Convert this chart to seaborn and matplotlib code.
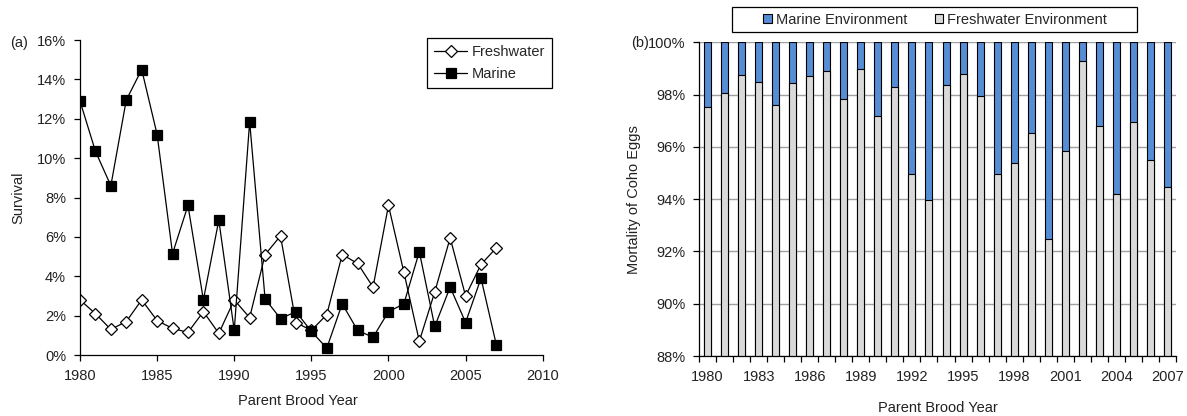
import matplotlib
matplotlib.use("Agg")
import matplotlib.pyplot as plt
import numpy as np
import pandas as pd
import seaborn as sns
from matplotlib.patches import Patch, Rectangle
from matplotlib.ticker import FuncFormatter, FixedLocator

# ---------------- data ----------------
years = list(range(1980, 2008))

freshwater_survival = [2.8, 2.1, 1.3, 1.7, 2.8, 1.75, 1.35, 1.15, 2.2, 1.1,
                       2.8, 1.9, 5.1, 6.05, 1.65, 1.25, 2.05, 5.1, 4.65, 3.45,
                       7.6, 4.2, 0.7, 3.2, 5.95, 3.0, 4.6, 5.45]
marine_survival = [12.9, 10.35, 8.6, 12.95, 14.5, 11.2, 5.15, 7.6, 2.8, 6.85,
                   1.25, 11.85, 2.85, 1.85, 2.2, 1.2, 0.35, 2.6, 1.25, 0.9,
                   2.2, 2.6, 5.25, 1.45, 3.45, 1.65, 3.9, 0.5]

freshwater_mortality = [97.51, 98.08, 98.75, 98.48, 97.6, 98.44, 98.71, 98.9,
                        97.82, 98.98, 97.2, 98.3, 94.98, 93.96, 98.35, 98.8,
                        97.95, 94.98, 95.38, 96.54, 92.49, 95.86, 99.28, 96.79,
                        94.19, 96.97, 95.5, 94.48]
marine_mortality = [2.49, 1.92, 1.25, 1.52, 2.4, 1.56, 1.29, 1.1, 2.18, 1.02,
                    2.8, 1.7, 5.02, 6.04, 1.65, 1.2, 2.05, 5.02, 4.62, 3.46,
                    7.51, 4.14, 0.72, 3.21, 5.81, 3.03, 4.5, 5.52]

left_xticks = [1980, 1985, 1990, 1995, 2000, 2005, 2010]
left_yticks = [0, 2, 4, 6, 8, 10, 12, 14, 16]
right_xtick_years = [1980, 1983, 1986, 1989, 1992, 1995, 1998, 2001, 2004, 2007]
right_yticks = [88, 90, 92, 94, 96, 98, 100]

BLUE = "#558ED5"
GREY = "#D9D9D9"
FS = 10.5
TXT = "#222222"

# ---------------- style ----------------
sns.set_style("ticks")
plt.rcParams["font.family"] = ["Liberation Sans", "DejaVu Sans"]
plt.rcParams["font.size"] = FS
plt.rcParams["axes.linewidth"] = 0.9

fig = plt.figure(figsize=(11.87, 4.16), dpi=100)
ax1 = fig.add_axes([0.0674, 0.1466, 0.3898, 0.7572])
ax2 = fig.add_axes([0.5889, 0.1442, 0.4018, 0.7541])

pct = FuncFormatter(lambda v, p: f"{v:.0f}%")

# ---------------- left: survival lines ----------------
sns.lineplot(x=years, y=freshwater_survival, ax=ax1, color="black", lw=0.9,
             marker="D", ms=6.5, mfc="white", mec="black", mew=0.9,
             label="Freshwater")
sns.lineplot(x=years, y=marine_survival, ax=ax1, color="black", lw=0.9,
             marker="s", ms=6.5, mfc="black", mec="black", mew=0.9,
             label="Marine")
ax1.set_xlim(1980, 2010)
ax1.set_ylim(0, 16)
ax1.set_xticks(left_xticks)
ax1.set_yticks(left_yticks)
ax1.yaxis.set_major_formatter(pct)
sns.despine(ax=ax1)
for s in ("left", "bottom"):
    ax1.spines[s].set_color("black")
ax1.tick_params(axis="both", direction="out", length=4, width=0.9,
                color="black", labelsize=FS, labelcolor=TXT)
ax1.tick_params(axis="y", pad=6)
ax1.tick_params(axis="x", pad=6)
ax1.set_xlabel("Parent Brood Year", fontsize=FS, color=TXT)
ax1.xaxis.set_label_coords(0.47, -0.125)
ax1.set_ylabel("Survival", fontsize=FS, color=TXT)
ax1.yaxis.set_label_coords(-0.119, 0.5)
leg1 = ax1.legend(loc="upper left", bbox_to_anchor=(0.7506, 1.005),
                  frameon=True, fancybox=False, edgecolor="black",
                  framealpha=1, borderaxespad=0, handlelength=2.3,
                  fontsize=FS, borderpad=0.45, labelspacing=0.55,
                  handletextpad=0.3)
leg1.get_frame().set_linewidth(0.9)
fig.text(10 / 1187, 1 - 43 / 416, "(a)", fontsize=FS, va="center",
         ha="left", color=TXT)

# ---------------- right: stacked mortality bars ----------------
df = pd.DataFrame({"year": years,
                   "fresh": freshwater_mortality,
                   "marine": marine_mortality})
df["total"] = df["fresh"] + df["marine"]

ax2.set_axisbelow(True)
sns.barplot(data=df, x="year", y="total", color=BLUE, saturation=1,
            width=0.41, edgecolor="black", linewidth=0.8, ax=ax2)
sns.barplot(data=df, x="year", y="fresh", color=GREY, saturation=1,
            width=0.41, edgecolor="black", linewidth=0.8, ax=ax2)
ax2.set_ylim(88, 100)
ax2.set_xlim(-0.5, len(years) - 0.5)
ax2.set_yticks(right_yticks)
ax2.yaxis.set_major_formatter(pct)
ax2.yaxis.grid(True, color="#A0A0A0", lw=1)
ax2.xaxis.grid(False)

major_pos = [years.index(y) for y in right_xtick_years]
ax2.xaxis.set_major_locator(FixedLocator(major_pos))
ax2.set_xticklabels([str(y) for y in right_xtick_years])
ax2.xaxis.set_minor_locator(FixedLocator(np.arange(-0.5, len(years), 1.0)))
ax2.tick_params(axis="x", which="major", length=0, pad=10, labelsize=FS,
                labelcolor=TXT)
ax2.tick_params(axis="x", which="minor", direction="out", length=4,
                width=0.9, color="black")
ax2.tick_params(axis="y", direction="out", length=4, width=0.9,
                color="black", pad=6, labelsize=FS, labelcolor=TXT)
sns.despine(ax=ax2)
for s in ("left", "bottom"):
    ax2.spines[s].set_color("black")
ax2.set_xlabel("Parent Brood Year", fontsize=FS, color=TXT)
ax2.xaxis.set_label_coords(0.5, -0.143)
ax2.set_ylabel("Mortality of Coho Eggs", fontsize=FS, color=TXT)
ax2.yaxis.set_label_coords(-0.1216, 0.5)
fig.text(631 / 1187, 1 - 43 / 416, "(b)", fontsize=FS, va="center",
         ha="left", color=TXT)

handles = [Patch(facecolor=BLUE, edgecolor="black", lw=0.8,
                 label="Marine Environment"),
           Patch(facecolor=GREY, edgecolor="black", lw=0.8,
                 label="Freshwater Environment")]
fig.legend(handles=handles, loc="center", bbox_to_anchor=(0.788, 0.953),
           ncol=2, frameon=False, handlelength=0.55, handleheight=0.55,
           handletextpad=0.3, columnspacing=1.9, fontsize=FS, borderpad=0)
fig.patches.append(Rectangle((731.7 / 1187, 1 - 32.3 / 416), 405 / 1187,
                             25.6 / 416, transform=fig.transFigure,
                             fill=False, edgecolor="black", lw=0.9))

fig.savefig("out.png", dpi=100)
